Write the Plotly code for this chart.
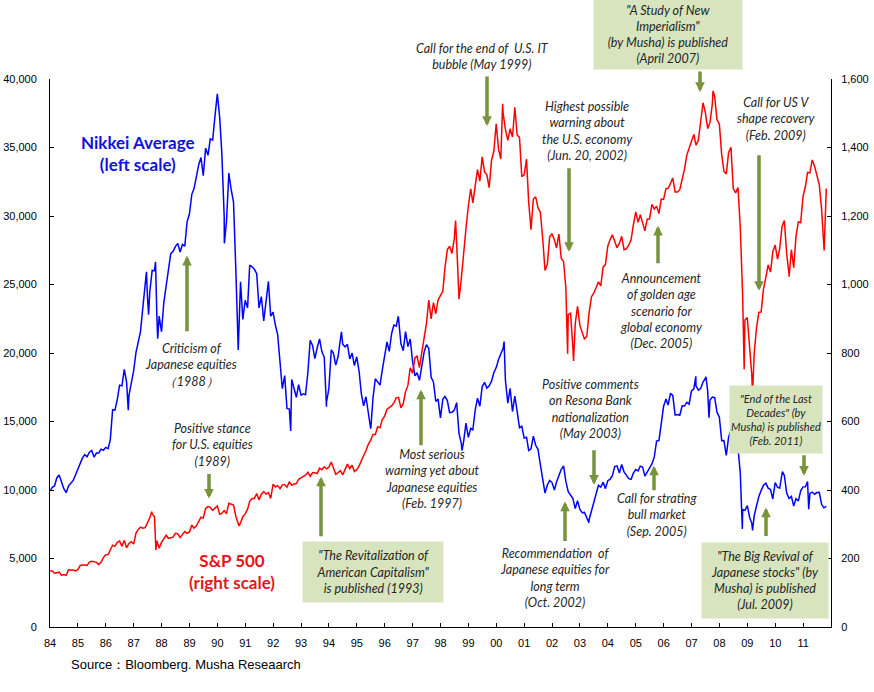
import pandas as pd
import plotly.graph_objects as go

# ---------------- data ----------------
month_start = "1984-01-31"

nikkei_monthly = [
    # 1984
    10200, 10300, 10900, 11100, 10500, 10100, 9800, 10300, 10500, 10700, 11100, 11540,
    # 1985
    11992, 12321, 12580, 12426, 12758, 12880, 12400, 12700, 12700, 12980, 12900, 13113,
    # 1986
    13024, 13641, 15859, 15825, 16600, 17654, 17600, 18800, 17852, 16911, 17852, 18701,
    # 1987
    20048, 20767, 21566, 23274, 24901, 24176, 24488, 26029, 26011, 22765, 22687, 21564,
    # 1988
    23719, 24865, 26260, 27256, 27417, 27769, 28000, 27366, 27924, 27800, 29579, 30159,
    # 1989
    31581, 31985, 32839, 33713, 34266, 32948, 34954, 34431, 35636, 35549, 37269, 38916,
    # 1990
    37189, 34591, 29980, 29584, 33131, 31940, 31035, 25978, 20984, 25194, 22454, 23849,
    # 1991
    23293, 26409, 26292, 26111, 25790, 23291, 24121, 22336, 23916, 25222, 22687, 22984,
    # 1992
    22023, 21339, 19346, 17391, 18348, 15952, 15910, 18061, 17399, 16767, 17684, 16925,
    # 1993
    17024, 16953, 18591, 20919, 20552, 19590, 20380, 21027, 20106, 19703, 16408, 17417,
    # 1994
    20229, 19997, 19112, 19725, 20974, 20644, 20449, 20629, 19564, 19990, 19076, 19723,
    # 1995
    18650, 17053, 16140, 16807, 15437, 14517, 16678, 18117, 17913, 17655, 18744, 19868,
    # 1996
    20813, 20125, 21407, 22041, 21956, 22531, 20693, 20167, 21556, 20466, 21020, 19361,
    # 1997
    18330, 18557, 18003, 19151, 20069, 20605, 20331, 18229, 17888, 16459, 16636, 15259,
    # 1998
    16628, 16832, 16527, 15641, 15671, 15830, 16379, 14108, 13406, 13565, 14883, 13842,
    # 1999
    14499, 14368, 15837, 16702, 16112, 17530, 17862, 17437, 17605, 17942, 18558, 18934,
    # 2000
    19540, 19960, 20337, 17974, 16332, 17411, 15727, 16861, 15747, 14540, 14649, 13786,
    # 2001
    13843, 12884, 12999, 13934, 13262, 12969, 11860, 10714, 9775, 10366, 10697, 10543,
    # 2002
    9997, 10587, 11025, 11493, 11764, 10622, 9877, 9619, 9383, 8640, 9216, 8579,
    # 2003
    8340, 8363, 7973, 7831, 8425, 9083, 9563, 10344, 10219, 10560, 10101, 10677,
    # 2004
    10784, 11042, 11715, 11762, 11236, 11859, 11326, 11082, 10824, 10771, 11231, 11489,
    # 2005
    11388, 11741, 11669, 11009, 11277, 11584, 11900, 12414, 13574, 13607, 14872, 16111,
    # 2006
    16650, 16205, 17060, 16906, 15467, 15505, 15457, 16141, 16128, 16399, 16274, 17226,
    # 2007
    17383, 17604, 17288, 17400, 17876, 18138, 17249, 16569, 16786, 16737, 15681, 15308,
    # 2008
    13592, 13603, 12526, 13850, 14339, 13481, 13377, 13073, 11260, 8577, 8512, 8860,
    # 2009
    7994, 7568, 8110, 8828, 9523, 9958, 10357, 10493, 10133, 10035, 9346, 10546,
    # 2010
    10198, 10126, 11090, 11057, 9769, 9383, 9537, 8824, 9369, 9202, 9937, 10229,
    # 2011
    10238, 10624, 9755, 9850, 9694, 9816, 9833, 8955, 8700, 8800,
]

nikkei_extra_dates = ["1984-01-04", "1986-10-22", "1987-06-17", "1987-07-15", "1987-10-14",
                      "1987-11-11", "1990-04-02", "1990-10-01", "1992-08-18", "1993-11-29",
                      "1994-06-13", "1995-07-03", "1996-06-26", "1998-10-09", "2000-04-12",
                      "2003-04-28", "2007-02-26", "2007-07-09", "2007-08-17", "2008-10-27",
                      "2009-03-10", "2010-04-05", "2011-03-15"]
nikkei_extra_vals = [9927, 15820, 25929, 22800, 26646,
                     21036, 28002, 20222, 14309, 16078,
                     21552, 14485, 22666, 12880, 20833,
                     7607, 18300, 18262, 15273, 7162,
                     7055, 11339, 8605]

sp500_monthly = [
    # 1984
    163.4, 157.1, 159.2, 160.1, 150.6, 153.2, 150.7, 166.7, 166.1, 166.1, 163.6, 167.2,
    # 1985
    179.6, 181.2, 180.7, 179.8, 189.6, 191.9, 190.9, 188.6, 182.1, 189.8, 202.2, 211.3,
    # 1986
    211.8, 226.9, 238.9, 235.5, 247.4, 250.8, 236.1, 252.9, 231.3, 244.0, 249.2, 242.2,
    # 1987
    274.1, 284.2, 291.7, 288.4, 290.1, 304.0, 318.7, 329.8, 321.8, 251.8, 230.3, 247.1,
    # 1988
    257.1, 267.8, 258.9, 261.3, 262.2, 273.5, 272.0, 261.5, 271.9, 279.0, 273.7, 277.7,
    # 1989
    297.5, 288.9, 294.9, 309.6, 320.5, 318.0, 346.1, 351.5, 349.2, 340.4, 346.0, 353.4,
    # 1990
    329.1, 331.9, 339.9, 330.8, 361.2, 358.0, 356.2, 322.6, 306.1, 304.0, 322.2, 330.2,
    # 1991
    343.9, 367.1, 375.2, 375.3, 389.8, 371.2, 387.8, 395.4, 387.9, 392.5, 375.2, 417.1,
    # 1992
    408.8, 412.7, 403.7, 415.0, 415.4, 408.1, 424.2, 414.0, 417.8, 418.7, 431.4, 435.7,
    # 1993
    438.8, 443.4, 451.7, 440.2, 450.2, 450.5, 448.1, 463.6, 458.9, 467.8, 461.8, 466.5,
    # 1994
    481.6, 467.1, 445.8, 450.9, 456.5, 444.3, 458.3, 475.5, 462.7, 472.4, 453.7, 459.3,
    # 1995
    470.4, 487.4, 500.7, 514.7, 533.4, 544.8, 562.1, 561.9, 584.4, 581.5, 605.4, 615.9,
    # 1996
    636.0, 640.4, 645.5, 654.2, 669.1, 670.6, 640.0, 652.0, 687.3, 705.3, 757.0, 740.7,
    # 1997
    786.2, 790.8, 757.1, 801.3, 848.3, 885.1, 954.3, 899.5, 947.3, 914.6, 955.4, 970.4,
    # 1998
    980.3, 1049.3, 1101.8, 1111.8, 1090.8, 1133.8, 1120.7, 957.3, 1017.0, 1098.7, 1163.6, 1229.2,
    # 1999
    1279.6, 1238.3, 1286.4, 1335.2, 1301.8, 1372.7, 1328.7, 1320.4, 1282.7, 1362.9, 1389.0, 1469.3,
    # 2000
    1394.5, 1366.4, 1498.6, 1452.4, 1420.6, 1454.6, 1430.8, 1517.7, 1436.5, 1429.4, 1315.0, 1320.3,
    # 2001
    1366.0, 1239.9, 1160.3, 1249.5, 1255.8, 1224.4, 1211.2, 1133.6, 1040.9, 1059.8, 1139.5, 1148.1,
    # 2002
    1130.2, 1106.7, 1147.4, 1076.9, 1067.1, 989.8, 911.6, 916.1, 815.3, 885.8, 936.3, 879.8,
    # 2003
    855.7, 841.2, 848.2, 916.9, 963.6, 974.5, 990.3, 1008.0, 996.0, 1050.7, 1058.2, 1111.9,
    # 2004
    1131.1, 1144.9, 1126.2, 1107.3, 1120.7, 1140.8, 1101.7, 1104.2, 1114.6, 1130.2, 1173.8, 1211.9,
    # 2005
    1181.3, 1203.6, 1180.6, 1156.8, 1191.5, 1191.3, 1234.2, 1220.3, 1228.8, 1207.0, 1249.5, 1248.3,
    # 2006
    1280.1, 1280.7, 1294.9, 1310.6, 1270.1, 1270.2, 1276.7, 1303.8, 1335.9, 1377.9, 1400.6, 1418.3,
    # 2007
    1438.2, 1406.8, 1420.9, 1482.4, 1530.6, 1503.4, 1455.3, 1474.0, 1526.8, 1549.4, 1481.1, 1468.4,
    # 2008
    1378.6, 1330.6, 1322.7, 1385.6, 1400.4, 1280.0, 1267.4, 1282.8, 1166.4, 968.8, 896.2, 903.3,
    # 2009
    825.9, 735.1, 797.9, 872.8, 919.1, 919.3, 987.5, 1020.6, 1057.1, 1036.2, 1095.6, 1115.1,
    # 2010
    1073.9, 1104.5, 1169.4, 1186.7, 1089.4, 1030.7, 1101.6, 1049.3, 1141.2, 1183.3, 1180.6, 1257.6,
    # 2011
    1286.1, 1327.2, 1325.8, 1363.6, 1345.2, 1320.6, 1292.3, 1219.0, 1131.4, 1280.0,
]

sp500_extra_dates = ["1984-01-03", "1987-08-25", "1987-10-19", "1990-10-11", "1998-07-17",
                     "2000-03-24", "2002-07-23", "2002-10-09", "2007-10-09", "2008-11-20",
                     "2009-03-09", "2010-07-02", "2011-10-03"]
sp500_extra_vals = [164.0, 336.8, 224.8, 295.5, 1186.8,
                    1527.5, 797.7, 776.8, 1565.2, 752.4,
                    676.5, 1022.6, 1099.2]

year_ticks = list(range(1984, 2012))
year_labels = [f"{y % 100:02d}" for y in year_ticks]


def build(monthly, extra_dates, extra_vals):
    d1 = pd.DataFrame({"date": pd.date_range(month_start, periods=len(monthly), freq="ME"),
                       "v": monthly})
    d2 = pd.DataFrame({"date": pd.to_datetime(extra_dates), "v": extra_vals})
    return pd.concat([d1, d2]).sort_values("date")


nk = build(nikkei_monthly, nikkei_extra_dates, nikkei_extra_vals)
sp = build(sp500_monthly, sp500_extra_dates, sp500_extra_vals)

# ---------------- figure ----------------
W, H = 874, 692
L, R, T, B = 50, 43, 79, 64.5
PW, PH = W - L - R, H - T - B


def px(x, y):
    return (x - L) / PW, (H - B - y) / PH


fig = go.Figure()
fig.add_trace(go.Scatter(x=nk["date"], y=nk["v"], mode="lines",
                         line=dict(color="#0000FF", width=1.5), name="Nikkei", yaxis="y"))
fig.add_trace(go.Scatter(x=sp["date"], y=sp["v"], mode="lines",
                         line=dict(color="#FF0000", width=1.5), name="S&P 500", yaxis="y2"))

NARROW = "Liberation Sans Narrow, Arial Narrow, Liberation Sans, sans-serif"
tickfont = dict(family=NARROW, size=11, color="#000000")

fig.update_layout(
    width=W, height=H,
    margin=dict(l=L, r=R, t=T, b=B, pad=0, autoexpand=False),
    paper_bgcolor="white", plot_bgcolor="white",
    showlegend=False,
    xaxis=dict(type="date", range=["1984-01-01", "2012-01-01"], automargin=False,
               tickvals=[f"{y}-01-01" for y in year_ticks], ticktext=year_labels,
               ticks="inside", ticklen=4, tickcolor="#000", showline=True, linecolor="#000",
               linewidth=1, showgrid=False, zeroline=False, tickfont=tickfont,
               ticklabelstandoff=6),
    yaxis=dict(range=[0, 40000], tickvals=list(range(0, 40001, 5000)), tickformat=",",
               automargin=False,
               ticks="inside", ticklen=4, tickcolor="#000", showline=True, linecolor="#000",
               linewidth=1, showgrid=False, zeroline=False, tickfont=tickfont, ticklabelstandoff=10),
    yaxis2=dict(range=[0, 1600], tickvals=list(range(0, 1601, 200)), tickformat=",",
                overlaying="y", side="right", automargin=False,
                ticks="inside", ticklen=4, tickcolor="#000", showline=True, linecolor="#000",
                linewidth=1, showgrid=False, zeroline=False, tickfont=tickfont, ticklabelstandoff=7),
)

TXT = dict(family="Lato, Open Sans, sans-serif", size=12.5, color="#262626")
BOX = "#D7E4BD"
ARW = "#77933C"

texts = [
    # (x_center, y_center, text)
    (191, 365.5, "Criticism of<br>Japanese equities<br>（1988）"),
    (212, 445, "Positive stance<br>for U.S. equities<br>(1989)"),
    (432, 479.5, "Most serious<br>warning yet about<br>Japanese equities<br>(Feb. 1997)"),
    (482, 56.5, "Call for the end of  U.S. IT<br>bubble (May 1999)"),
    (587, 131.5, "Highest possible<br>warning about<br>the U.S. economy<br>(Jun. 20, 2002)"),
    (776, 119, "Call for US V<br>shape recovery<br>(Feb. 2009)"),
    (661, 311.5, "Announcement<br>of golden age<br>scenario for<br>global economy<br>(Dec. 2005)"),
    (590, 409.5, "Positive comments<br>on Resona Bank<br>nationalization<br>(May 2003)"),
    (555, 578.5, "Recommendation  of<br>Japanese equities for<br>long term<br>(Oct. 2002)"),
    (657, 515, "Call for strating<br>bull market<br>(Sep. 2005)"),
]

boxes = [
    # (x_center, y_center, width, height, font size, text)
    (373, 572, 140, 60, 12.5, "\"The Revitalization of<br>American Capitalism\"<br>is published (1993)"),
    (668, 34.5, 148, 69, 12.5, "\"A Study of New<br>Imperialism\"<br>(by Musha) is published<br>(April 2007)"),
    (776, 419.5, 92, 67, 11, "\"End of the Last<br>Decades\" (by<br>Musha) is published<br>(Feb. 2011)"),
    (765, 580.5, 126, 75, 12.5, "\"The Big Revival of<br>Japanese stocks\" (by<br>Musha) is published<br>(Jul. 2009)"),
]

arrows = [
    # (x, head_y, tail_y)
    (187, 256, 333),
    (209, 499, 473),
    (321, 477, 538),
    (421, 390, 447),
    (487, 126, 75),
    (569, 252, 167),
    (700, 92, 70),
    (759, 291, 154),
    (658, 226, 265),
    (594, 485, 449),
    (565, 502, 543),
    (654, 466, 492),
    (804, 476, 454),
    (766, 508, 538),
]

ann = []
for x, y, t in texts:
    xp, yp = px(x, y)
    ann.append(dict(x=xp, y=yp, xref="paper", yref="paper", xanchor="center", yanchor="middle",
                    text=f"<i>{t}</i>", showarrow=False, font=TXT, align="center"))
for x, y, w, h, fs, t in boxes:
    xp, yp = px(x, y)
    ann.append(dict(x=xp, y=yp, xref="paper", yref="paper", xanchor="center", yanchor="middle",
                    text=f"<i>{t}</i>", showarrow=False, font=dict(TXT, size=fs), align="center",
                    bgcolor=BOX, width=w, height=h, borderpad=0, valign="middle"))
for x, hy, ty in arrows:
    xp, yp = px(x, hy)
    ann.append(dict(x=xp, y=yp, xref="paper", yref="paper", text="", showarrow=True,
                    ax=0, ay=ty - hy, arrowhead=2, arrowsize=0.55, arrowwidth=3.5,
                    arrowcolor=ARW, standoff=0))

# series labels
xp, yp = px(138, 154)
ann.append(dict(x=xp, y=yp, xref="paper", yref="paper", xanchor="center", yanchor="middle",
                text="<b>Nikkei Average<br>(left scale)</b>", showarrow=False,
                font=dict(family="Lato, Open Sans, sans-serif", size=17, color="#1010E0")))
xp, yp = px(232, 572)
ann.append(dict(x=xp, y=yp, xref="paper", yref="paper", xanchor="center", yanchor="middle",
                text="<b>S&P 500<br>(right scale)</b>", showarrow=False,
                font=dict(family="Lato, Open Sans, sans-serif", size=17, color="#E8141B")))
xp, yp = px(69, 665)
ann.append(dict(x=xp, y=yp, xref="paper", yref="paper", xanchor="left", yanchor="middle",
                text="Source：Bloomberg. Musha Reseaarch", showarrow=False,
                font=dict(family=NARROW, size=13, color="#000")))

fig.update_layout(annotations=ann)
fig.write_html("out.html")
